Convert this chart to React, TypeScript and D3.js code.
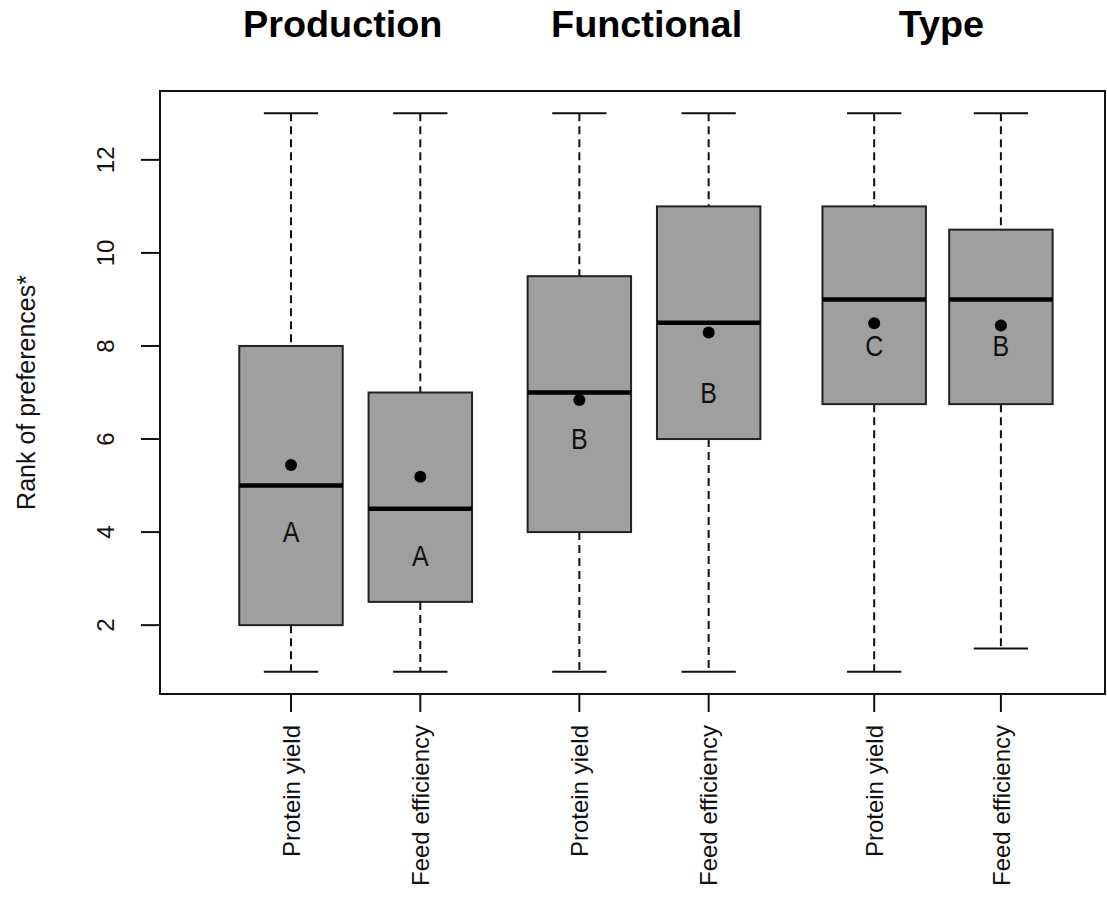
import React from 'react';
import * as d3 from 'd3';

// one entry per box, left to right
const traits = ['Protein yield', 'Feed efficiency', 'Protein yield', 'Feed efficiency', 'Protein yield', 'Feed efficiency'];
const whiskerLow = [1, 1, 1, 1, 1, 1.5];
const q1 = [2, 2.5, 4, 6, 6.75, 6.75];
const medians = [5, 4.5, 7, 8.5, 9, 9];
const q3 = [8, 7, 9.5, 11, 11, 10.5];
const whiskerHigh = [13, 13, 13, 13, 13, 13];
const means = [5.44, 5.19, 6.84, 8.29, 8.49, 8.44];
const letters = ['A', 'A', 'B', 'B', 'C', 'B'];
const letterY = [4, 3.5, 6, 7, 8, 8];

const groups = ['Production', 'Functional', 'Type'];
const yTicks = [2, 4, 6, 8, 10, 12];

// slot positions on the x axis (R "at" values)
const slots = [1, 2, 3.23, 4.23, 5.51, 6.49];
const groupAt = [1.4, 3.75, 6.03];

const W = 1107;
const H = 914;
const frame = { left: 160, right: 1105, top: 91, bottom: 694 };
const font = '"Liberation Sans", Arial, sans-serif';

export default function App() {
  const x = d3.scaleLinear().domain([-0.013, 7.295]).range([frame.left, frame.right]);
  const y = d3.scaleLinear().domain([0.52, 13.48]).range([frame.bottom, frame.top]);
  const unit = x(1) - x(0);
  const boxW = unit * 0.8;
  const capW = unit * 0.42;

  return (
    <svg width={W} height={H} style={{ position: 'absolute', left: 0, top: 0, background: '#fff' }}
      fontFamily={font}>
      {groups.map((g, i) => (
        <text key={g} transform={`translate(${x(groupAt[i])},37) scale(1.05,1)`} textAnchor="middle"
          fontSize={36} fontWeight="bold" fill="#000">
          {g}
        </text>
      ))}

      {traits.map((t, i) => {
        const cx = x(slots[i]);
        return (
          <g key={i}>
            <line x1={cx} x2={cx} y1={y(whiskerHigh[i])} y2={y(q3[i])} stroke="#111" strokeWidth={2} strokeDasharray="8,5" />
            <line x1={cx} x2={cx} y1={y(q1[i])} y2={y(whiskerLow[i])} stroke="#111" strokeWidth={2} strokeDasharray="8,5" />
            <line x1={cx - capW / 2} x2={cx + capW / 2} y1={y(whiskerHigh[i])} y2={y(whiskerHigh[i])} stroke="#111" strokeWidth={2} />
            <line x1={cx - capW / 2} x2={cx + capW / 2} y1={y(whiskerLow[i])} y2={y(whiskerLow[i])} stroke="#111" strokeWidth={2} />
            <rect x={cx - boxW / 2} y={y(q3[i])} width={boxW} height={y(q1[i]) - y(q3[i])}
              fill="#9f9f9f" stroke="#222" strokeWidth={2} />
            <line x1={cx - boxW / 2} x2={cx + boxW / 2} y1={y(medians[i])} y2={y(medians[i])} stroke="#000" strokeWidth={4.5} />
            <circle cx={cx} cy={y(means[i])} r={6} fill="#000" />
            <text transform={`translate(${cx},${y(letterY[i])}) scale(1,1.15)`} dy="0.36em" textAnchor="middle"
              fontSize={25} fill="#111">{letters[i]}</text>
            <line x1={cx} x2={cx} y1={frame.bottom} y2={frame.bottom + 18} stroke="#111" strokeWidth={2} />
            <text transform={`translate(${cx},${frame.bottom + 31}) rotate(-90)`} dy="0.36em" textAnchor="end"
              fontSize={24} fill="#111">{t}</text>
          </g>
        );
      })}

      {yTicks.map((v) => (
        <g key={v}>
          <line x1={frame.left - 19} x2={frame.left} y1={y(v)} y2={y(v)} stroke="#111" strokeWidth={2} />
          <text transform={`translate(${frame.left - 55},${y(v)}) rotate(-90)`} dy="0.36em" textAnchor="middle"
            fontSize={24} fill="#111">{v}</text>
        </g>
      ))}

      <rect x={frame.left} y={frame.top} width={frame.right - frame.left} height={frame.bottom - frame.top}
        fill="none" stroke="#111" strokeWidth={2} />

      <text transform={`translate(26,${(frame.top + frame.bottom) / 2}) rotate(-90)`} dy="0.36em" textAnchor="middle"
        fontSize={25} fill="#111">Rank of preferences*</text>
    </svg>
  );
}
